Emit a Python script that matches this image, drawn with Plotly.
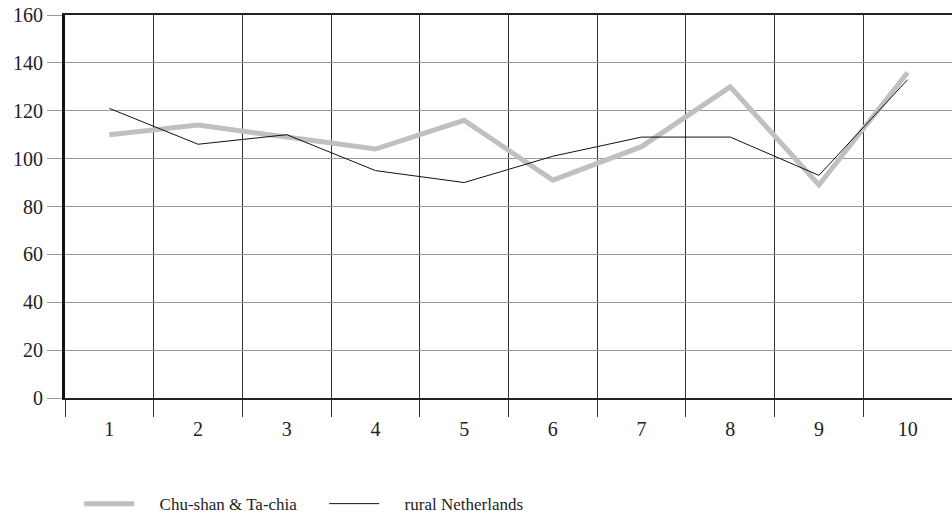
import plotly.graph_objects as go

decile = [1, 2, 3, 4, 5, 6, 7, 8, 9, 10]
tick_text = ["1", "2", "3", "4", "5", "6", "7", "8", "9", "10"]
chushan = [110, 114, 109, 104, 116, 91, 105, 130, 89, 136]
netherlands = [121, 106, 110, 95, 90, 101, 109, 109, 93, 133]

font = "Liberation Serif"
pad = "\u2002\u2002\u2009"  # a little space between legend sample and its text

fig = go.Figure()
fig.add_trace(go.Scatter(x=decile, y=chushan, mode="lines", name=pad + "Chu-shan & Ta-chia",
                         line=dict(color="#c0c0c2", width=5)))
fig.add_trace(go.Scatter(x=decile, y=netherlands, mode="lines", name=pad + "rural Netherlands",
                         line=dict(color="#111111", width=1)))

fig.update_layout(
    width=952, height=525,
    margin=dict(l=65, r=0, t=15, b=127),
    plot_bgcolor="white", paper_bgcolor="white",
    font=dict(family=font, size=18, color="#222"),
    legend=dict(orientation="h", x=0.016, y=-0.23, xanchor="left", yanchor="top",
                font=dict(family=font, size=17, color="#222"), entrywidth=180,
                entrywidthmode="pixels", itemwidth=50),
    xaxis=dict(range=[0.5, 10.5], tickvals=decile, ticktext=tick_text, ticks="",
               automargin=False,
               showgrid=False, showline=True, linecolor="#222", linewidth=2, mirror=True,
               ticklabelstandoff=12, tickfont=dict(size=20),
               minor=dict(tick0=0.5, dtick=1, showgrid=True, gridcolor="#333", gridwidth=1,
                          ticks="outside", ticklen=17, tickcolor="#333", tickwidth=1)),
    yaxis=dict(range=[0, 160], dtick=20, showgrid=True, gridcolor="#999", gridwidth=1,
               automargin=False, ticklabeloverflow="allow",
               showline=True, linecolor="#111", linewidth=3, zeroline=False,
               ticks="outside", ticklen=15, tickcolor="#999", tickwidth=1,
               tickfont=dict(size=20)),
)

# drop the default 8px page margin so the figure sits at the window's corner
fig.write_html("out.html", config={"displayModeBar": False},
               post_script="document.body.style.margin='0';")
